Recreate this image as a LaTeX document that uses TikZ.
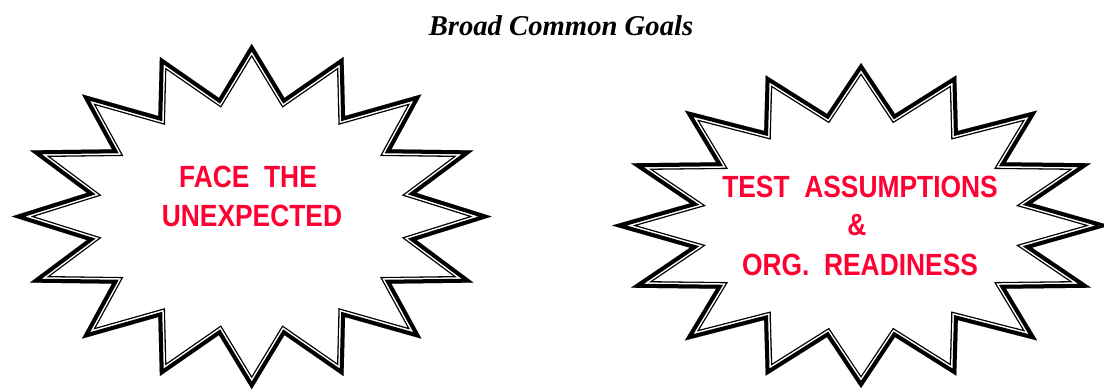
\documentclass[tikz,border=0pt]{standalone}
\usepackage{fontspec}
\setmainfont{Liberation Serif}
\newfontfamily\burstfont{Liberation Sans}[FakeStretch=0.86]
\definecolor{burstred}{RGB}{255,0,51}
\tikzset{
  burst/.style n args={4}{insert path={plot[samples at={0,...,31}]
    ({#1+(1-0.3*mod(\x,2))*#3*sin(\x*11.25)},{#2-(1-0.3*mod(\x,2))*#4*cos(\x*11.25)}) -- cycle}},
  band1/.style={line width=10.2pt, line join=miter, draw=black},
  band2/.style={line width=8.25pt, line join=miter, draw=white},
  band3/.style={line width=6pt, line join=miter, draw=black},
  bursttext/.style={text=burstred, font=\burstfont\bfseries\fontsize{23}{28}\selectfont, anchor=base, inner sep=0pt},
  titletext/.style={font=\fontsize{21.5}{26}\selectfont\bfseries\itshape, anchor=base, inner sep=0pt}
}
\begin{document}
\begin{tikzpicture}[x=0.75pt,y=-0.75pt]
\useasboundingbox (0,0) rectangle (1104,390);
% left starburst
\begin{scope}
  \clip[burst={251.7}{216.5}{240}{172.7}];
  \path[band1, burst={251.7}{216.5}{240}{172.7}];
  \path[band2, burst={251.7}{216.5}{240}{172.7}];
  \path[band3, burst={251.7}{216.5}{240}{172.7}];
\end{scope}
% right starburst
\begin{scope}
  \clip[burst={861}{225.5}{249}{162.5}];
  \path[band1, burst={861}{225.5}{249}{162.5}];
  \path[band2, burst={861}{225.5}{249}{162.5}];
  \path[band3, burst={861}{225.5}{249}{162.5}];
\end{scope}
\node[titletext] (title) at (561,35.5) {Broad Common Goals};
\node[bursttext] (face) at (248,187) {FACE\ \ THE};
\node[bursttext] (unexp) at (252,226) {UNEXPECTED};
\node[bursttext] (test) at (860,197) {TEST\ \ ASSUMPTIONS};
\node[bursttext] (amp) at (857,235) {\&};
\node[bursttext] (org) at (860,275) {ORG.\ \ READINESS};
\end{tikzpicture}
\end{document}
